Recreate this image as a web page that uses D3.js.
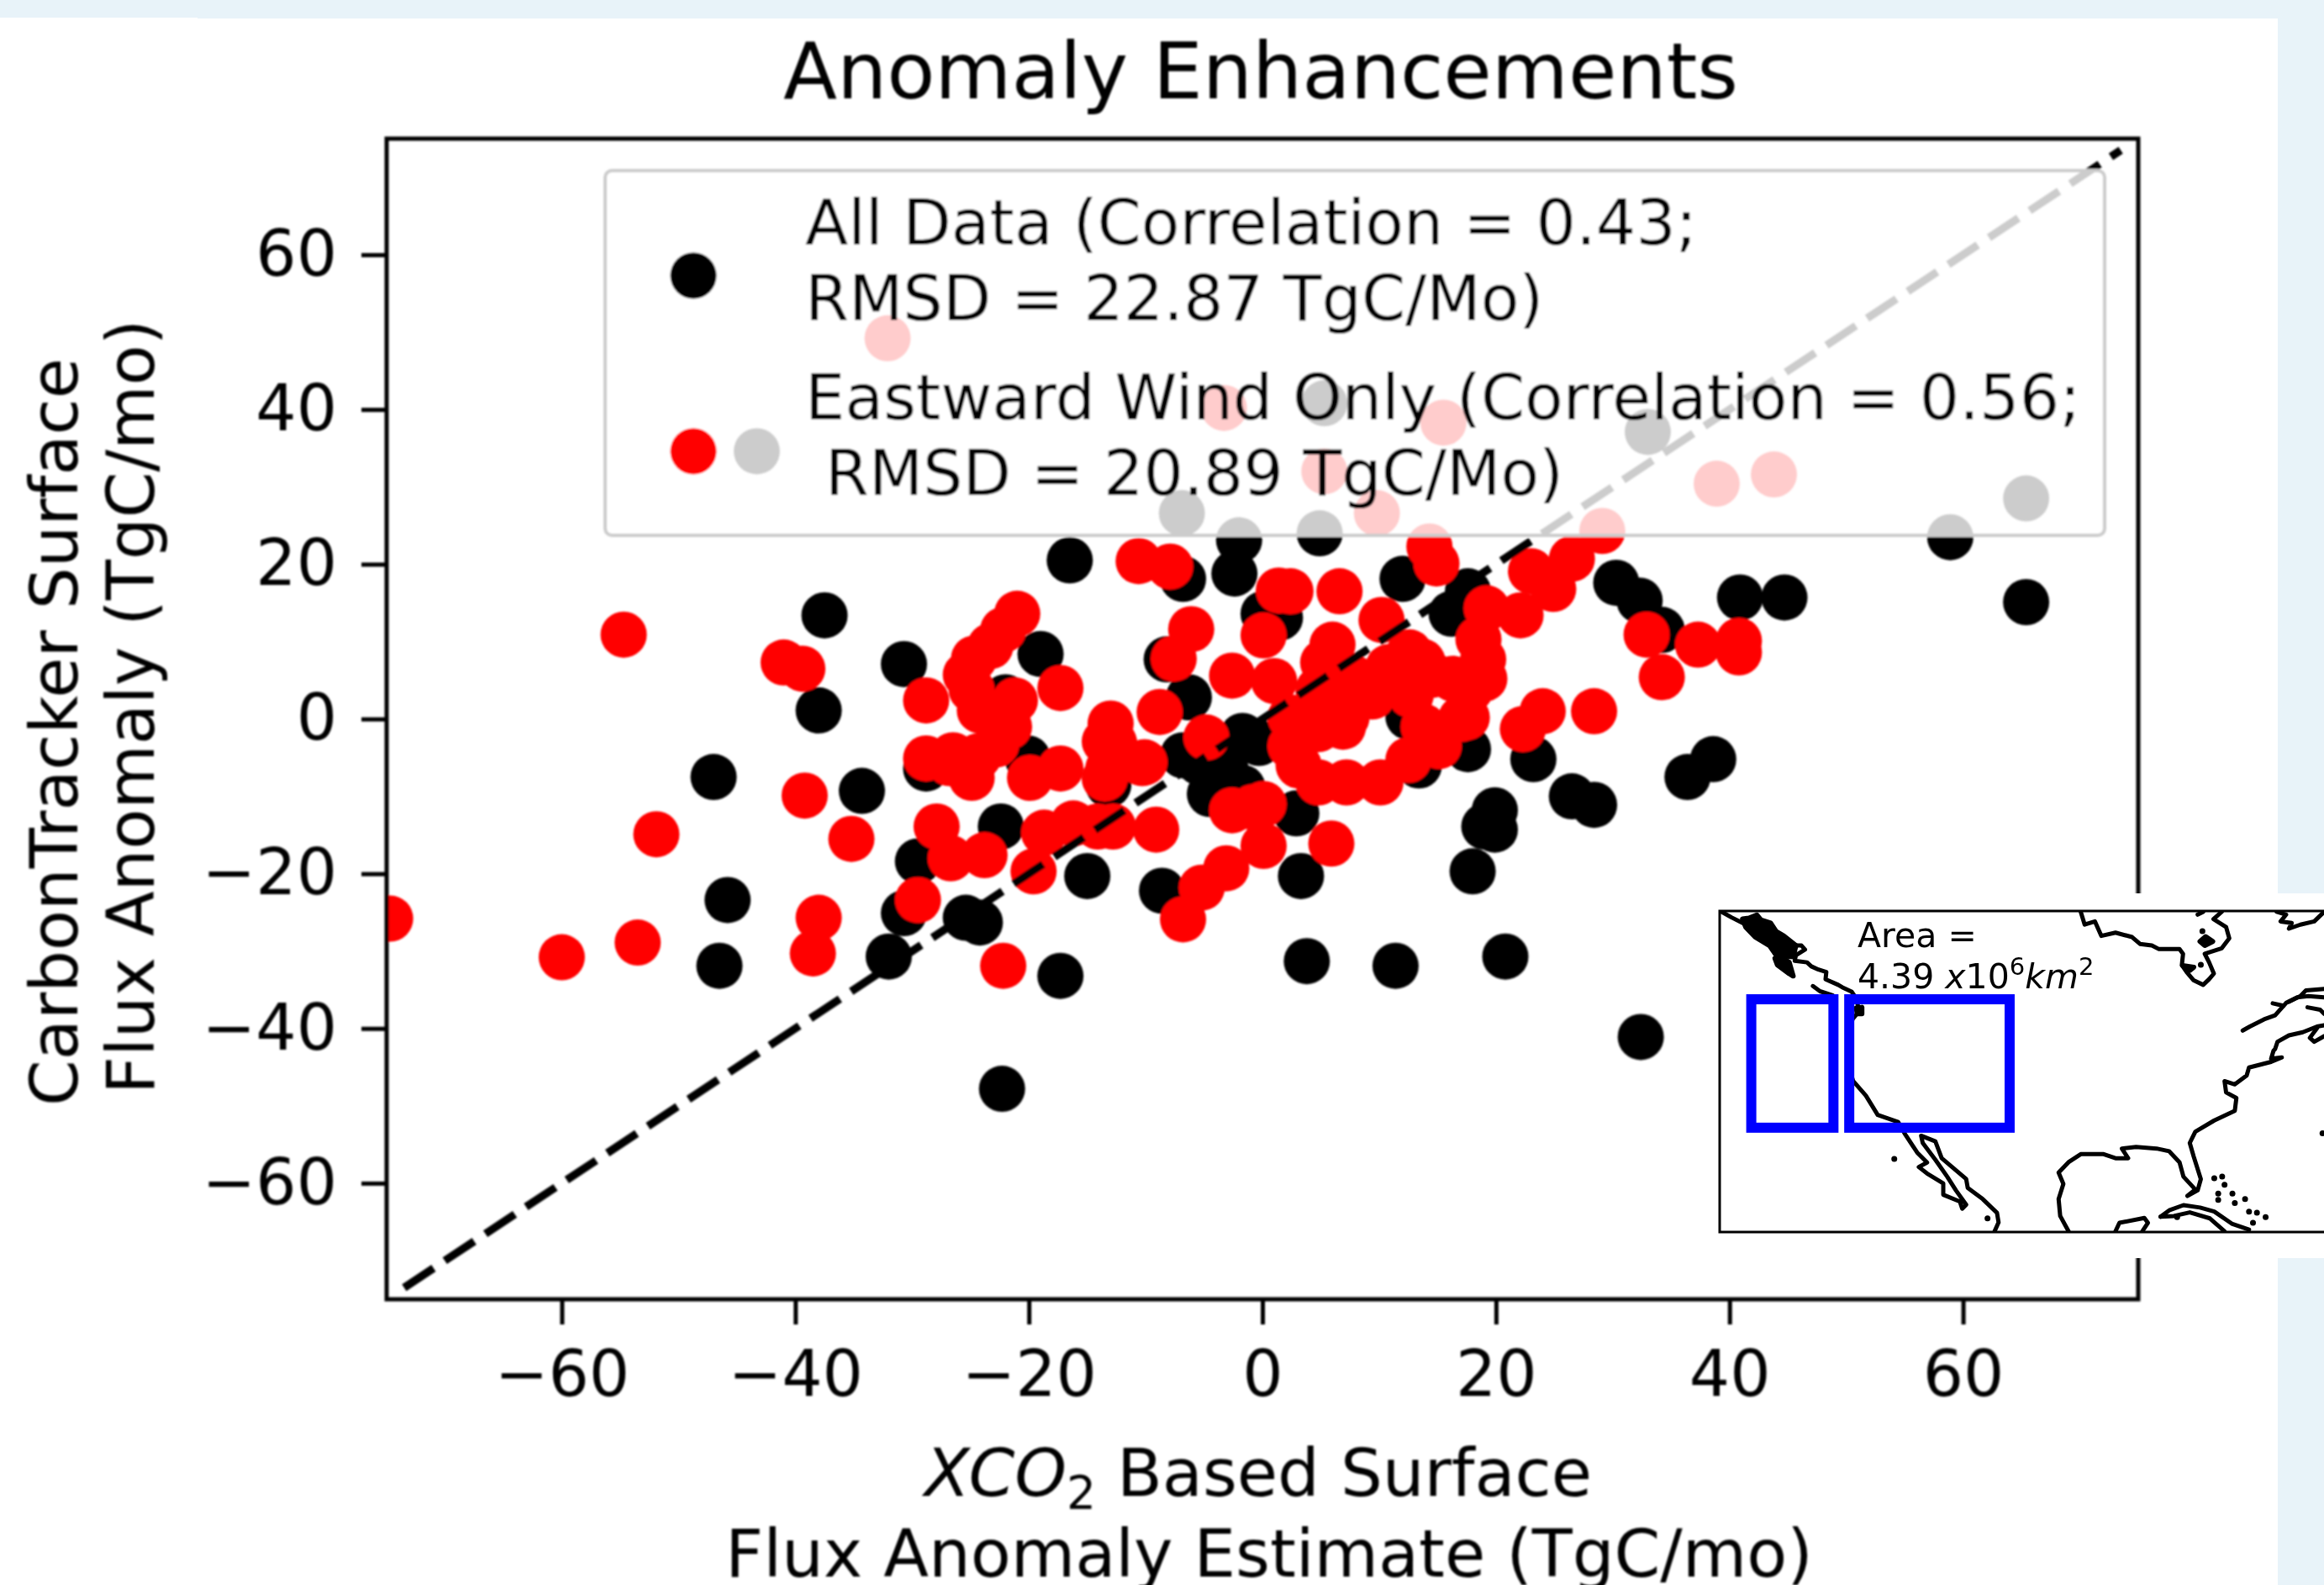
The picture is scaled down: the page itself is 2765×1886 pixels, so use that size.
<!DOCTYPE html>
<html>
<head>
<meta charset="utf-8">
<title>Anomaly Enhancements</title>
<script src="https://cdn.jsdelivr.net/npm/d3@7"></script>
<style>
    html, body { margin: 0; padding: 0; background: #e8f3f9; overflow: hidden; }
    svg { display: block; }
    text { font-family: "DejaVu Sans", sans-serif; fill: #000; white-space: pre; }
    .tick text { font-size: 76px; }
    .coast { fill: none; stroke: #000; stroke-width: 5; stroke-linejoin: round; stroke-linecap: round; }
    .blob { fill: #000; stroke: #000; stroke-width: 6; stroke-linejoin: round; }
</style>
</head>
<body>
<svg id="drawing_region"></svg>
<script>
// values, [xco2 anomaly, carbontracker anomaly]
const allData = [
    [-16.5,20.5],[-6.8,18.1],[-2.4,18.8],[-2.0,23.1],[4.9,24],[12.0,18.1],[-37.5,13.4],[-30.7,7.1],[-19,8.4],[-38,1.1],
    [-47,-7.5],[-34.3,-9.3],[-28.8,-6.4],[-22.4,-13.9],[-29.5,-18.4],[-15,-20.3],[-8.6,-22.2],[3.3,-20.3],[18,-19.7],
    [19.9,-11.8],[19.9,-14.3],[19,-13.9],[0.1,13.6],[1.5,13.1],[-8.2,7.7],[-6.3,2.8],[-6.8,-4.7],[-4.5,-9.7],[-1.7,-8.9],
    [-3.1,-6.8],[2.9,-12.2],[-24.2,-26.3],[-25.4,-25.7],[-30.7,-25.1],[-45.8,-23.4],[-46.5,-31.9],[-32,-30.7],[-17.3,-33.2],
    [3.8,-31.3],[11.4,-31.9],[20.8,-30.7],[12.5,0.3],[17.6,-3.9],[13.4,-6],[-22,2.8],[-20.1,-5.1],[-13.2,-8.5],[-0.3,-3.1],
    [16.2,13.6],[17.6,16.5],[-5.4,-5.6],[-1.7,-2.2],[30.3,17.6],[32.3,15.3],[34.2,11.5],[40.9,15.7],[44.7,15.7],[65.4,15.1],
    [36.4,-7.5],[38.6,-5.2],[23.2,-5.2],[26.5,-10],[28.4,-11.1],[32.4,-41.1],[-22.3,-47.8],[58.9,23.5],[65.4,28.5],
    [33,37.1],[5.3,40.8],[-43.3,34.6],[-6.9,26.6]
];
const eastwardOnly = [
    [-41,7.3],[-39.4,6.5],[-21,13.6],[-22.2,11.5],[-23.3,9.4],[-24.7,7.8],[-25.4,5.7],[-28.8,2.4],[-21.2,2.4],[-17.3,4],
    [-24.2,1.1],[-22.8,-3.3],[-28.8,-5.1],[-26.5,-4.7],[-24.9,-7.6],[-19.9,-7.6],[-17.3,-6.4],[-13,-0.6],[-12.7,-3.1],
    [-12,-5.3],[-13.2,-6.4],[-10.1,-5.6],[-8.8,0.9],[-7.6,7.8],[-6.1,11.6],[-10.6,20.4],[-7.9,19.7],[-4.8,-2.4],[-2.6,5.6],[1,4.9],[0.1,10.8],
    [1.4,16.6],[2.4,16.5],[6.6,16.5],[10.2,12.8],[6,9.6],[5.2,7.3],[14.9,20.1],[14.3,22.3],[19.2,14.3],[18.5,10.3],[19,5.2],[16.3,5.2],
    [12.7,3.1],[13.7,7.4],[10.8,6.7],[7.9,5.2],[4.8,3.8],[2.4,0.2],[7.2,0.2],[4.8,-1.3],[2.4,-3.5],[3.1,-6],[4.8,-8.2],[7.2,-8.2],
    [10.1,-8.2],[12.5,-5.3],[15.1,-3.5],[17.5,0.2],[17.8,3.8],[14.5,5.7],[12.6,8.6],[18.9,7.7],[17,0],[13.8,-1],[9.4,2.9],[6.9,-1],
    [-24.9,3.8],[-21.7,-1],[-24.3,-4.8],[-26.8,-5.7],[-13.5,-2.9],[-10.3,-5.7],[-13.5,-7.7],
    [-0.8,-11.4],[0.1,-11],[-2.6,-11.8],[0.1,-16.4],[5.9,-16.1],
    [-3.1,-19.3],[-5.2,-21.8],[-6.8,-25.9],[-9.1,-14.3],[-12.8,-13.9],[-16.2,-13.5],[-18.7,-14.7],[-19.6,-19.7],[-23.8,-17.6],
    [-26.7,-18],[-27.9,-13.9],[-14.1,-13.9],[-29.5,-23.4],[-39.2,-9.9],[-35.2,-15.5],[-38,-25.7],[-38.5,-30.3],[-22.2,-31.9],
    [-51.9,-14.9],[-54.7,10.9],[-60,-30.8],[-53.5,-28.9],[-74.7,-25.8],[22.1,13.4],[23,19.1],[24.9,16.8],[26.5,20.7],
    [29.1,24.3],[24,1],[22.3,-1.3],[28.4,1],[32.9,10.9],[34.2,5.4],[37.3,9.6],[40.8,10.1],[40.8,8.6],[38.9,30.4],
    [43.8,31.6],[15.5,38.3],[9.8,26.6],[5.3,32],[-3.3,40.2],[-32.1,49.2]
];
const axisTicks = [-60, -40, -20, 0, 20, 40, 60];
const oneToOne = [-73.5, 73.5];

const legendLines = [
    "All Data (Correlation = 0.43;",
    "RMSD = 22.87 TgC/Mo)",
    "Eastward Wind Only (Correlation = 0.56;",
    " RMSD = 20.89 TgC/Mo)"
];

// inset map, lon/lat
const regionBoxes = [
    [-136, -125.6, 49, 33],
    [-123.6, -103.3, 49, 33]
];
const coastLines = [
    [[-139.75,59.9],[-138.5,59.2],[-137.1,58.5]],
    [[-130.35,55.7],[-129.65,55.7],[-129.2,55.2],[-130.35,54.5],[-130.5,53.8],[-128.95,53.6],[-128.4,53.1],[-127.5,52.7],[-126.5,52.4],[-126.6,51.5],[-125,50.8],[-124.5,50.5],[-123.3,49.95],[-122.7,49.1],[-122.5,48.2],[-122.6,47.2],[-123.2,46.5],[-123.6,44],[-123.8,41],[-123.1,38.8],[-121.5,37],[-120,34.6],[-117.4,33.7],[-116.6,32.3],[-115,29.9],[-113.75,28.66],[-114.8,28.1],[-113.75,27.3],[-111.7,26.05],[-111.7,24.65],[-109.6,23.8],[-109.3,22.9],[-108.8,23.4],[-110.1,25.2],[-111.2,26.9],[-112.7,29],[-114.3,31.1],[-114.5,32],[-112.7,31.3],[-111.9,29.2],[-108.8,26.6],[-108.6,25.5],[-106.7,24.1],[-104.9,22.4],[-104.7,21.2],[-105.2,20.1]],
    [[-128.2,50.65],[-127.3,50],[-125.7,49.5]],
    [[-94.3,59.9],[-93.8,58.3],[-92.5,58.7],[-91.7,56.9],[-89.9,57.3],[-87.8,56.75],[-86.8,55.9],[-85.3,55.7],[-84.4,55.25],[-81.8,55.25],[-81.35,54.66],[-81.5,53.26],[-80.9,52.4],[-80,51.35],[-78.8,50.8],[-78.05,51.5],[-77.45,52.2],[-78.05,53.6],[-78.6,54.66],[-76.45,55.36],[-75.5,56.6],[-75.9,58],[-77.5,59],[-76.45,59.9]],
    [[-79.5,59.55],[-78.8,59.9]],
    [[-69.5,59.9],[-68.3,59.55],[-69,58.7],[-67.6,58.5],[-67.95,57.8],[-66.5,58.3],[-64.75,58.7],[-63.7,59.7]],
    [[-73.8,45.1],[-72.9,45.6],[-71.1,46.5],[-69.7,47],[-68.3,48.55],[-66.9,49.25],[-65.5,49.4],[-63.5,49.25]],
    [[-70,48.5],[-68.65,48.2]],
    [[-67.95,48.7],[-66.5,49.4],[-65.8,50.1],[-63.5,50.3]],
    [[-65.6,48],[-64,47.7],[-63.5,47.2]],
    [[-63.5,45.75],[-64.4,45.6],[-66.2,44.9],[-67.95,44.5],[-69.4,43.7],[-69.7,42.8],[-69.9,42.6],[-70.2,41.6],[-68.85,41.75],[-70.2,41.2],[-73,40.5],[-73.3,39.5],[-74.8,38.4],[-76.1,38.8],[-75.9,37.4],[-74.6,36.7],[-74.8,35.1],[-77.4,33.9],[-79.8,32.5],[-80.5,31.1],[-80,29.4],[-79.1,26.6],[-79.5,25.2],[-80.8,24.5],[-79.8,25.3],[-81.3,26.9],[-81.8,28.7],[-83.1,30.06],[-84.7,30.4],[-87.3,30.6],[-89.1,30.4],[-88.3,29.2],[-89.9,29.2],[-91.4,29.7],[-94.3,29.7],[-95.85,28.7],[-97.1,27.4],[-96.5,26],[-97.1,24.1],[-96.9,22],[-95.85,20.1]],
    [[-63.5,44.4],[-64.75,43.7],[-65.3,44.2],[-64.4,45.4]],
    [[-89.9,20.1],[-89.4,21.15],[-86.25,21.75],[-85.8,21.15],[-86.5,20.1]],
    [[-84.2,21.9],[-83.1,22.7],[-81.3,23.35],[-79.2,23.05],[-77.4,22.55],[-75.1,21],[-73,20.3]],
    [[-84.2,21.9],[-82.5,22],[-80.5,22.45],[-77.95,21.7],[-76.1,20.1]]
];
const landBlobs = [
    [[-137.1,59],[-136.3,59.1],[-135.3,59.5],[-134.8,58.9],[-133.55,58.5],[-132.85,57.45],[-131.9,56.9],[-130.35,55.7],[-130.7,54.3],[-132.85,54.5],[-133.7,55.7],[-135.5,56.75],[-136.7,58]],
    [[-133,54.1],[-132.3,54.3],[-131.2,53.6],[-130.7,51.9],[-131.2,52.2],[-132.7,53.3]],
    [[-79.2,56.2],[-78.5,56.8],[-77.6,56.2],[-78.6,55.7]],
    [[-81.4,53.2],[-80,53],[-80.5,52.6]],
    [[-122.7,47.9],[-122,48],[-122,47.2],[-122.6,47.2]]
];
const islands = [
    [-77.4,26.7],[-76.4,26.9],[-76.1,25.9],[-75.1,24.8],[-76.9,24.8],[-76.9,24],[-74.8,23.6],[-73,22.55],[-72,22.4],[-70.9,21.85],
    [-72.5,21.15],[-73.5,24.1],[-82.1,21.85],[-63.7,32.3],[-117.9,29.1],[-106.1,21.7],[-78.9,57.5],[-79.1,53.3]
];

const config = {
    parent: '#drawing_region',
    width: 2765,
    height: 1886,
    margin: {top:165, right:221, bottom:340, left:460},
    radius: 27.5
};
const plotW = config.width - config.margin.left - config.margin.right;
const plotH = config.height - config.margin.top - config.margin.bottom;

const svg = d3.select(config.parent)
    .attr('width', config.width)
    .attr('height', config.height);

const defs = svg.append('defs');
const addBlur = (id, amount) => defs.append('filter').attr('id', id)
    .attr('filterUnits', 'userSpaceOnUse')
    .attr('x', 0).attr('y', 0)
    .attr('width', config.width).attr('height', config.height)
    .append('feGaussianBlur').attr('stdDeviation', amount);
addBlur('soft', 1.3);
addBlur('soft_inset', 0.6);
defs.append('clipPath').attr('id', 'plot_clip')
    .append('rect').attr('width', plotW).attr('height', plotH);

// page panel
svg.append('rect').attr('x', 0).attr('y', 21).attr('width', 235).attr('height', 10).attr('fill', '#fff');
svg.append('rect').attr('x', 0).attr('y', 22).attr('width', 2710).attr('height', 1864).attr('fill', '#fff');

const chart = svg.append('g').attr('filter', 'url(#soft)');
const plot = chart.append('g')
    .attr('transform', `translate(${config.margin.left}, ${config.margin.top})`);

const xScale = d3.scaleLinear().domain([-75, 75]).range([0, plotW]);
const yScale = d3.scaleLinear().domain([-75, 75]).range([plotH, 0]);

const marks = plot.append('g').attr('clip-path', 'url(#plot_clip)');
marks.selectAll('circle.all')
    .data(allData)
    .enter()
    .append('circle')
    .attr('class', 'all')
    .attr('cx', d => xScale(d[0]))
    .attr('cy', d => yScale(d[1]))
    .attr('r', config.radius)
    .attr('fill', '#000');
marks.selectAll('circle.east')
    .data(eastwardOnly)
    .enter()
    .append('circle')
    .attr('class', 'east')
    .attr('cx', d => xScale(d[0]))
    .attr('cy', d => yScale(d[1]))
    .attr('r', config.radius)
    .attr('fill', '#f00');

marks.append('line')
    .attr('x1', xScale(oneToOne[0])).attr('y1', yScale(oneToOne[0]))
    .attr('x2', xScale(oneToOne[1])).attr('y2', yScale(oneToOne[1]))
    .attr('stroke', '#000')
    .attr('stroke-width', 9.5)
    .attr('stroke-dasharray', '42 16');

// axes
const xAxis = d3.axisBottom(xScale).tickValues(axisTicks).tickSize(30).tickPadding(31);
const yAxis = d3.axisLeft(yScale).tickValues(axisTicks).tickSize(30).tickPadding(29);
const gx = plot.append('g').attr('transform', `translate(0, ${plotH})`).call(xAxis);
const gy = plot.append('g').call(yAxis);
[gx, gy].forEach(g => {
    g.select('.domain').remove();
    g.selectAll('.tick line').attr('stroke', '#000').attr('stroke-width', 5);
});
plot.append('rect')
    .attr('width', plotW).attr('height', plotH)
    .attr('fill', 'none').attr('stroke', '#000').attr('stroke-width', 5);

// legend sits above the marks with a see-through frame
const legend = chart.append('g');
legend.append('rect')
    .attr('x', 720).attr('y', 203).attr('width', 1784).attr('height', 434).attr('rx', 8)
    .attr('fill', '#fff').attr('fill-opacity', 0.8)
    .attr('stroke', '#ccc').attr('stroke-width', 4);
legend.selectAll('circle')
    .data(['#000', '#f00'])
    .enter()
    .append('circle')
    .attr('cx', 825)
    .attr('cy', (d, i) => i === 0 ? 328 : 537)
    .attr('r', config.radius)
    .attr('fill', d => d);
const legendBaselines = [291, 381, 499, 589];
legend.selectAll('text')
    .data(legendLines)
    .enter()
    .append('text')
    .attr('x', 958)
    .attr('y', (d, i) => legendBaselines[i])
    .attr('font-size', 74.7)
    .text(d => d);

// titles
chart.append('text').attr('x', 1500).attr('y', 117).attr('text-anchor', 'middle').attr('font-size', 93.5)
    .text('Anomaly Enhancements');
const xLabel = chart.append('text').attr('x', 1497).attr('y', 1780).attr('text-anchor', 'middle').attr('font-size', 78.5);
xLabel.append('tspan').attr('font-style', 'italic').text('XCO');
xLabel.append('tspan').attr('font-size', 55).attr('dy', 15).text('2');
xLabel.append('tspan').attr('dy', -15).text(' Based Surface');
chart.append('text').attr('x', 1510).attr('y', 1876).attr('text-anchor', 'middle').attr('font-size', 78.5)
    .text('Flux Anomaly Estimate (TgC/mo)');
chart.append('text').attr('transform', 'translate(92, 871) rotate(-90)').attr('text-anchor', 'middle').attr('font-size', 78.5)
    .text('CarbonTracker Surface');
chart.append('text').attr('transform', 'translate(183, 841) rotate(-90)').attr('text-anchor', 'middle').attr('font-size', 78.5)
    .text('Flux Anomaly (TgC/mo)');

// inset map
svg.append('rect').attr('x', 2020).attr('y', 1063).attr('width', 745).attr('height', 434).attr('fill', '#fff');
const inset = svg.append('g').attr('filter', 'url(#soft_inset)');

const lonScale = d3.scaleLinear().domain([-140, -60]).range([2046, 2798]);
const latScale = d3.scaleLinear().domain([60, 20]).range([1084, 1466]);

defs.append('clipPath').attr('id', 'inset_clip')
    .append('rect')
    .attr('x', lonScale(-140)).attr('y', latScale(60))
    .attr('width', lonScale(-60) - lonScale(-140))
    .attr('height', latScale(20) - latScale(60));

const coastPath = d3.line().x(d => lonScale(d[0])).y(d => latScale(d[1]));
const map = inset.append('g').attr('clip-path', 'url(#inset_clip)');
map.selectAll('path.coast')
    .data(coastLines)
    .enter()
    .append('path')
    .attr('class', 'coast')
    .attr('d', coastPath);
map.selectAll('path.blob')
    .data(landBlobs)
    .enter()
    .append('path')
    .attr('class', 'blob')
    .attr('d', d => coastPath(d) + 'Z');
map.selectAll('circle')
    .data(islands)
    .enter()
    .append('circle')
    .attr('cx', d => lonScale(d[0]))
    .attr('cy', d => latScale(d[1]))
    .attr('r', 3.5)
    .attr('fill', '#000');

inset.selectAll('rect.box')
    .data(regionBoxes)
    .enter()
    .append('rect')
    .attr('class', 'box')
    .attr('x', d => lonScale(d[0]))
    .attr('y', d => latScale(d[2]))
    .attr('width', d => lonScale(d[1]) - lonScale(d[0]))
    .attr('height', d => latScale(d[3]) - latScale(d[2]))
    .attr('fill', 'none')
    .attr('stroke', '#00f')
    .attr('stroke-width', 12);

inset.append('rect')
    .attr('x', lonScale(-140)).attr('y', latScale(60))
    .attr('width', lonScale(-60) - lonScale(-140))
    .attr('height', latScale(20) - latScale(60))
    .attr('fill', 'none').attr('stroke', '#000').attr('stroke-width', 3);

inset.append('text').attr('x', 2210).attr('y', 1127).attr('font-size', 41).text('Area =');
const areaText = inset.append('text').attr('x', 2210).attr('y', 1176).attr('font-size', 41);
areaText.append('tspan').text('4.39 ');
areaText.append('tspan').attr('font-style', 'italic').text('x');
areaText.append('tspan').text('10');
areaText.append('tspan').attr('font-size', 29).attr('dy', -16).text('6');
areaText.append('tspan').attr('font-style', 'italic').attr('dy', 16).text('km');
areaText.append('tspan').attr('font-size', 29).attr('dy', -16).text('2');
</script>
</body>
</html>
